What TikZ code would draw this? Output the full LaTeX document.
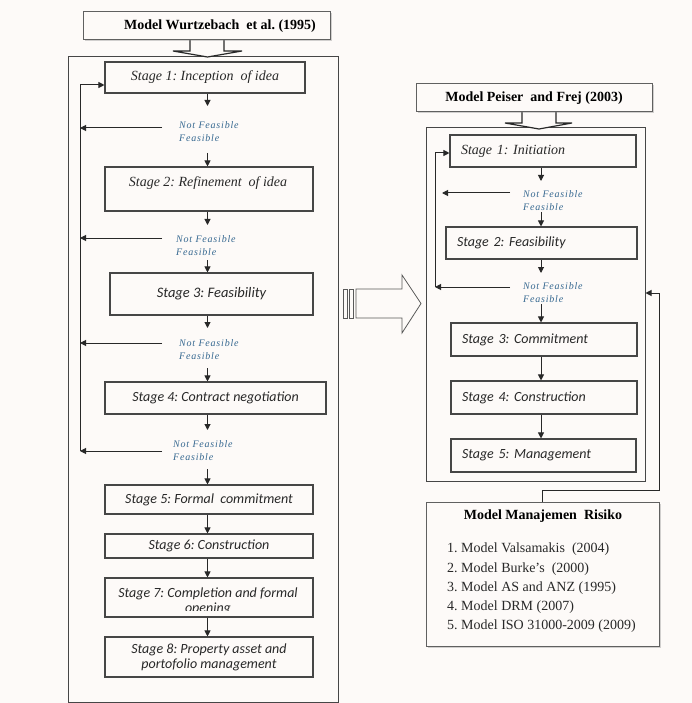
\documentclass[tikz,border=0pt]{standalone}
\usepackage{fontspec}
\setmainfont{Liberation Serif}
\newfontfamily\stagesans{Carlito}
\newfontfamily\notefont[LetterSpace=8]{Liberation Serif}
\usetikzlibrary{arrows.meta,shadows}

\definecolor{paper}{RGB}{253,250,248}
\definecolor{ink}{RGB}{40,40,40}
\definecolor{frame}{RGB}{70,70,70}
\definecolor{note}{RGB}{55,105,145}

\tikzset{
  box/.style={draw=frame, line width=1.1pt, rectangle, inner sep=0pt, fill=paper},
  bigframe/.style={draw=frame, line width=1pt, rectangle, inner sep=0pt},
  titlebox/.style={draw=gray!75!black, line width=1pt, rectangle, inner sep=0pt, fill=paper,
    drop shadow={opacity=0.35, shadow xshift=1.5pt, shadow yshift=-1.5pt}},
  arr/.style={draw=ink, line width=1pt, -{Triangle[length=6pt,width=6pt]}},
  ln/.style={draw=ink, line width=1pt},
  serifstage/.style={font=\fontsize{14}{15}\selectfont\itshape, text=ink},
  sansstage/.style={font=\stagesans\fontsize{14}{15}\selectfont\itshape, text=ink},
  notes/.style={font=\notefont\fontsize{10}{13}\selectfont\itshape, text=note, align=left, inner sep=0pt},
  titletext/.style={font=\fontsize{14}{16}\selectfont\bfseries, text=black, inner sep=0pt},
  blockarrow/.style={draw=ink, line width=1.2pt, fill=paper, line join=miter},
  rstage/.style={box, text width=#1, align=left},
}

\begin{document}
\frenchspacing
\begin{tikzpicture}[x=1pt, y=-1pt]
\fill[paper] (0,0) rectangle (692,703);
\useasboundingbox (0,0) rectangle (692,703);

% ---------- Model Wurtzebach et al. ----------
\node[bigframe, minimum width=270pt, minimum height=645pt] (lframe) at (203,379.5) {};
\draw[blockarrow] (190,40) -- (190,51) -- (173,51) -- (207.5,57) -- (242,51) -- (224,51) -- (224,40);
\node[titlebox, minimum width=247pt, minimum height=28pt] (ltitle) at (206.5,26) {};
\node[titletext] (ltitletext) at (220,26) {Model Wurtzebach\ \ et al. (1995)};

\node[box, serifstage, minimum width=200pt, minimum height=31pt] (s1) at (205,77.5) {Stage 1: Inception\ \ of idea};
\node[box, minimum width=208pt, minimum height=44pt] (s2) at (209,189) {};
\node[serifstage, inner sep=0pt] (s2t) at (208,183) {Stage 2: Refinement\ \ of idea};
\node[box, sansstage, font=\stagesans\fontsize{14.5}{15}\selectfont\itshape, minimum width=203pt, minimum height=42pt] (s3) at (211.5,294) {\raisebox{3pt}{Stage 3: Feasibility}};
\node[box, sansstage, minimum width=221pt, minimum height=32pt] (s4) at (215.5,398) {Stage 4: Contract negotiation};
\node[box, sansstage, minimum width=208pt, minimum height=29pt] (s5) at (209,499.5) {Stage 5: Formal\ \ commitment};
\node[box, sansstage, minimum width=208pt, minimum height=24pt] (s6) at (209,546) {\raisebox{-1.5pt}{Stage 6: Construction}};
\node[box, minimum width=208pt, minimum height=39pt] (s7) at (209,597.5) {};
\begin{scope}
  \clip (106,579) rectangle (312,610.5);
  \node[sansstage, align=center, inner sep=0pt] (s7t) at (208,601) {Stage 7: Completion and formal\\opening};
\end{scope}
\node[box, sansstage, align=center, minimum width=208pt, minimum height=40pt] (s8) at (209,657) {Stage 8: Property asset and\\portofolio management};

% decisions between stages
\node[notes, anchor=west] (d1) at (179,131.5) {Not Feasible\\Feasible};
\node[notes, anchor=west] (d2) at (176,245.5) {Not Feasible\\Feasible};
\node[notes, anchor=west] (d3) at (179,349.5) {Not Feasible\\Feasible};
\node[notes, anchor=west] (d4) at (173,450.5) {Not Feasible\\Feasible};

\coordinate (lfbx) at (80,0);
\coordinate (la1) at (207.5,106);  \coordinate (lb1) at (207.5,153);
\coordinate (la2) at (207.5,225);  \coordinate (lb2) at (207.5,260);
\coordinate (la3) at (207.5,328);  \coordinate (lb3) at (207.5,368);
\coordinate (la4) at (207.5,430);  \coordinate (lb4) at (207.5,469);
\coordinate (lf1) at (162,128);
\coordinate (lf2) at (162,238);
\coordinate (lf3) at (162,343);
\coordinate (lf4) at (162,451);
\coordinate (lftop) at (80,85);

\draw[arr] (la1 |- s1.south) -- (la1);
\draw[arr] (lb1) -- (lb1 |- s2.north);
\draw[arr] (la2 |- s2.south) -- (la2);
\draw[arr] (lb2) -- (lb2 |- s3.north);
\draw[arr] (la3 |- s3.south) -- (la3);
\draw[arr] (lb3) -- (lb3 |- s4.north);
\draw[arr] (la4 |- s4.south) -- (la4);
\draw[arr] (lb4) -- (lb4 |- s5.north);
\draw[arr] (la4 |- s5.south) -- (la4 |- s6.north);
\draw[arr] (la4 |- s6.south) -- (la4 |- s7.north);
\draw[arr] (la4 |- s7.south) -- (la4 |- s8.north);

\draw[arr] (lf1) -- (lf1 -| lfbx);
\draw[arr] (lf2) -- (lf2 -| lfbx);
\draw[arr] (lf3) -- (lf3 -| lfbx);
\draw[arr] (lf4) -- (lf4 -| lfbx);
\draw[arr] (lf4 -| lfbx) -- (lftop) -- (lftop -| s1.west);

% ---------- transition arrow ----------
\draw[draw=gray!70!black, line width=0.8pt, fill=paper] (343,289) rectangle (347,318);
\draw[draw=gray!70!black, line width=0.8pt, fill=paper] (349,289) rectangle (353,318);
\draw[draw=gray!70!black, line width=0.8pt, fill=paper, line join=miter]
  (356,289) -- (402,289) -- (402,275) -- (421,303.5) -- (402,333) -- (402,318) -- (356,318) -- cycle;

% ---------- Model Peiser and Frej ----------
\node[bigframe, minimum width=219pt, minimum height=353pt] (rframe) at (535.5,304.5) {};
\draw[blockarrow] (522,112) -- (522,123) -- (505,123) -- (539,129) -- (572,123) -- (556,123) -- (556,112);
\node[titlebox, minimum width=236pt, minimum height=28pt] (rtitle) at (534,98) {};
\node[titletext] (rtitletext) at (534,98) {Model Peiser\ \ and Frej (2003)};

\node[rstage=164pt, serifstage, minimum width=186pt, minimum height=32pt] (r1) at (543,151) {Stage 1: Initiation};
\node[rstage=169pt, sansstage, minimum width=191pt, minimum height=32pt] (r2) at (541.5,243) {Stage 2: Feasibility};
\node[rstage=164pt, sansstage, minimum width=186pt, minimum height=33pt] (r3) at (544,339.5) {Stage 3: Commitment};
\node[rstage=164pt, sansstage, minimum width=186pt, minimum height=33pt] (r4) at (544,397.5) {Stage 4: Construction};
\node[rstage=163pt, sansstage, minimum width=185pt, minimum height=33pt] (r5) at (543.5,455.5) {Stage 5: Management};

\node[notes, anchor=west] (e1) at (523,201) {Not Feasible\\Feasible};
\node[notes, anchor=west] (e2) at (523,292.5) {Not Feasible\\Feasible};

\coordinate (ra1) at (541,181);  \coordinate (rb1) at (541,212);
\coordinate (ra2) at (541,273);  \coordinate (rb2) at (541,304);
\coordinate (rf1) at (510,193);  \coordinate (rf1e) at (442,193);
\coordinate (rf2) at (510,287);
\coordinate (rfbx) at (435,0);
\coordinate (rftop) at (435,153);

\draw[arr] (ra1 |- r1.south) -- (ra1);
\draw[arr] (rb1) -- (rb1 |- r2.north);
\draw[arr] (ra2 |- r2.south) -- (ra2);
\draw[arr] (rb2) -- (rb2 |- r3.north);
\draw[arr] (ra2 |- r3.south) -- (ra2 |- r4.north);
\draw[arr] (ra2 |- r4.south) -- (ra2 |- r5.north);
\draw[arr] (rf1) -- (rf1e);
\draw[arr] (rf2) -- (rf2 -| rfbx);
\draw[arr] (rf2 -| rfbx) -- (rftop) -- (rftop -| r1.west);

% ---------- risk management models ----------
\node[titlebox, minimum width=233pt, minimum height=144pt] (risk) at (542.5,574) {};
\node[titletext] (risktitle) at (543,516) {Model Manajemen\ \ Risiko};
\node[font=\fontsize{14}{19.3}\selectfont, text=ink, align=left, anchor=west, inner sep=0pt] (risklist) at (447,588)
  {1. Model Valsamakis\ \ (2004)\\2. Model Burke’s\ \ (2000)\\3. Model AS and ANZ (1995)\\4. Model DRM (2007)\\5. Model ISO 31000-2009 (2009)};

\coordinate (k1) at (542.5,490);
\coordinate (k2) at (659,490);
\coordinate (k3) at (659,293);
\draw[arr] (risk.north) -- (k1) -- (k2) -- (k3) -- (k3 -| rframe.east);
\end{tikzpicture}
\end{document}
